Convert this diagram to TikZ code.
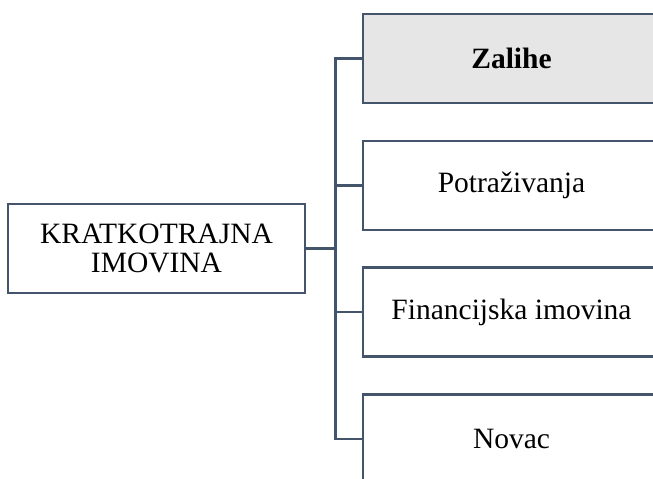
\documentclass[tikz,border=0pt]{standalone}
\usepackage{fontspec}
\setmainfont{Liberation Serif}
\definecolor{rub}{HTML}{44546A}
\definecolor{sivo}{HTML}{E7E6E6}
\tikzstyle{every node}=[rectangle, draw=rub, line width=2.6pt, minimum width=297pt, minimum height=89pt, align=center, font=\fontsize{29.5}{29.5}\selectfont]
\tikzstyle{branch}=[to path={(\tikztostart.east) -- ++(29,0) |- (\tikztotarget.west)}]

\begin{document}
\begin{tikzpicture}[x=1pt, y=-1pt]
    \useasboundingbox (0,0) rectangle (653,479);
    \clip (0,0) rectangle (653,479);
    \node (n1) at (156.5,248.5) {KRATKOTRAJNA\\IMOVINA};
    \node[fill=sivo] (n2) at (511.5,58.5) {\textbf{Zalihe}};
    \node (n3) at (511.5,185.5) {Potraživanja};
    \node (n4) at (511.5,312) {Financijska imovina};
    \node (n5) at (511.5,439) {Novac};
    \path[draw=rub, line width=2.6pt]
    (n1) edge[branch] (n2)
    (n1) edge[branch] (n3)
    (n1) edge[branch] (n4)
    (n1) edge[branch] (n5)
	;
  \end{tikzpicture}
\end{document}
